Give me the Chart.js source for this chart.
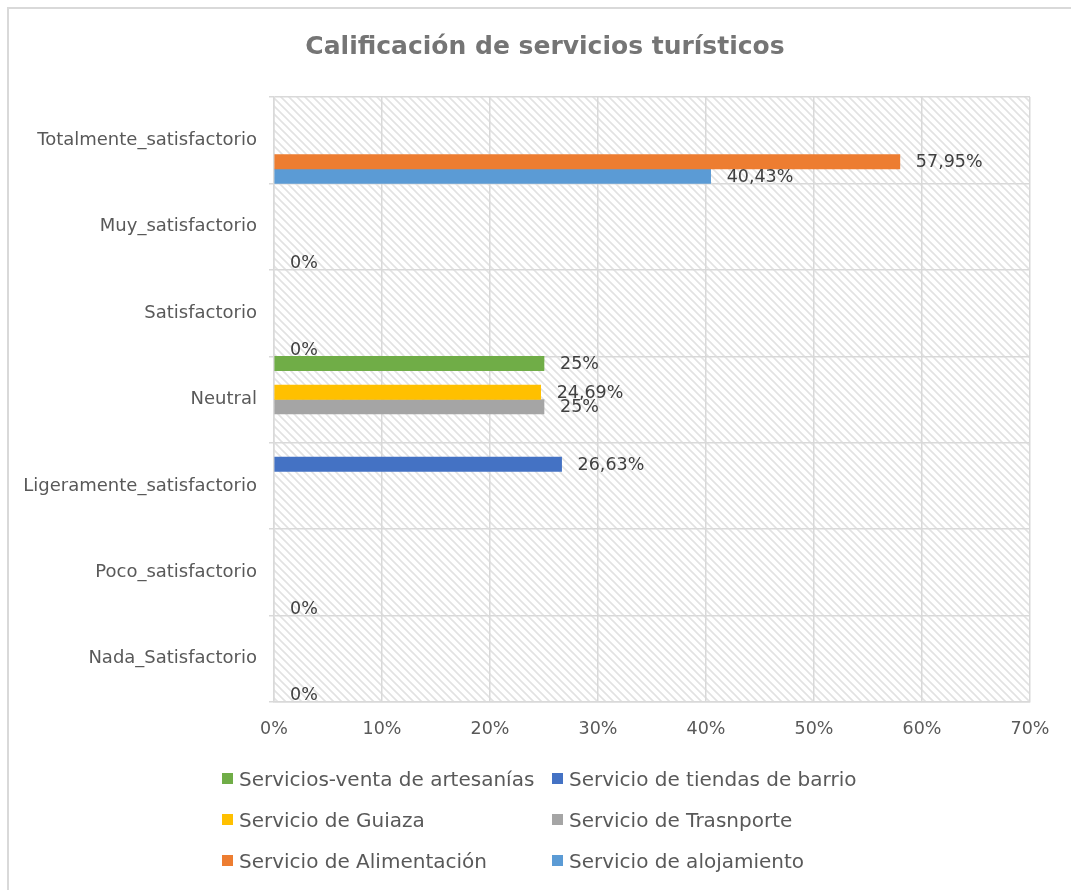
<!DOCTYPE html>
<html>
<head>
<meta charset="utf-8">
<script src="https://cdn.jsdelivr.net/npm/chart.js@4/dist/chart.umd.min.js"></script>
<style>
  html, body { margin: 0; padding: 0; background: #fff; }
  html { overflow: hidden; }
  body { width: 1071px; height: 890px; position: relative; overflow: hidden; font-family: "DejaVu Sans", sans-serif; }
  .frame { position: absolute; left: 7px; top: 7px; width: 1064px; height: 883px; border-top: 2px solid #d9d9d9; border-left: 2px solid #d9d9d9; box-sizing: border-box; }
  .wrap { position: absolute; left: 0; top: 0; width: 1071px; height: 890px; }
  .legend { position: absolute; left: 222px; top: 758px; display: grid; grid-template-columns: 330px auto; grid-auto-rows: 41px; color: #595959; font-size: 20px; }
  .legend div { display: flex; align-items: center; white-space: nowrap; }
  .legend span { display: inline-block; width: 11px; height: 11px; margin-right: 6px; }
</style>
</head>
<body>
<div class="frame"></div>
<div class="wrap"><canvas id="chart"></canvas></div>
<div class="legend" id="legend"></div>
<script>
// categories, top to bottom
const categories = [
    'Totalmente_satisfactorio',
    'Muy_satisfactorio',
    'Satisfactorio',
    'Neutral',
    'Ligeramente_satisfactorio',
    'Poco_satisfactorio',
    'Nada_Satisfactorio',
]

// series values (%), null = no bar / no label
const artesanias   = [null, null, null, 25, null, null, null]
const tiendas      = [null, null, null, null, 26.63, null, null]
const guiaza       = [null, null, null, 24.69, null, null, null]
const transporte   = [null, null, null, 25, null, null, null]
const alimentacion = [57.95, null, null, null, null, null, null]
const alojamiento  = [40.43, 0, 0, null, null, 0, 0]

const xTicks = [0, 10, 20, 30, 40, 50, 60, 70]

const series = [
    { label: 'Servicios-venta de artesanías', data: artesanias, color: '#70ad47' },
    { label: 'Servicio de tiendas de barrio', data: tiendas, color: '#4472c4' },
    { label: 'Servicio de Guiaza', data: guiaza, color: '#ffc000' },
    { label: 'Servicio de Trasnporte', data: transporte, color: '#a5a5a5' },
    { label: 'Servicio de Alimentación', data: alimentacion, color: '#ed7d31' },
    { label: 'Servicio de alojamiento', data: alojamiento, color: '#5b9bd5' },
]

const TITLE = 'Calificación de servicios turísticos'
const FONT = '"DejaVu Sans", sans-serif'

function fmt(v) {
    return String(v).replace('.', ',') + '%'
}

// diagonal hatch for the plot area
function makeHatch(ctx) {
    const c = document.createElement('canvas')
    c.width = 8
    c.height = 8
    const p = c.getContext('2d')
    p.strokeStyle = '#e2e2e2'
    p.lineWidth = 1.6
    p.beginPath()
    p.moveTo(-2, -2); p.lineTo(10, 10)
    p.moveTo(-10, -2); p.lineTo(2, 10)
    p.moveTo(6, -2); p.lineTo(18, 10)
    p.stroke()
    return ctx.createPattern(c, 'repeat')
}

const hatchPlugin = {
    id: 'hatch',
    beforeDraw(chart) {
        const { ctx, chartArea } = chart
        ctx.save()
        ctx.fillStyle = makeHatch(ctx)
        ctx.fillRect(chartArea.left, chartArea.top, chartArea.right - chartArea.left, chartArea.bottom - chartArea.top)
        ctx.restore()
    }
}

// title centred on the whole frame, not on the padded box
const titlePlugin = {
    id: 'frameTitle',
    afterDraw(chart) {
        const ctx = chart.ctx
        ctx.save()
        ctx.font = 'bold 25px ' + FONT
        ctx.fillStyle = '#757575'
        ctx.textAlign = 'center'
        ctx.textBaseline = 'middle'
        ctx.fillText(TITLE, 545, 47)
        ctx.restore()
    }
}

const valueLabels = {
    id: 'valueLabels',
    afterDatasetsDraw(chart) {
        const ctx = chart.ctx
        ctx.save()
        ctx.font = '17.5px ' + FONT
        ctx.fillStyle = '#404040'
        ctx.textAlign = 'left'
        ctx.textBaseline = 'middle'
        chart.data.datasets.forEach((ds, i) => {
            const meta = chart.getDatasetMeta(i)
            meta.data.forEach((bar, j) => {
                const v = ds.data[j]
                if (v === null || v === undefined) return
                ctx.fillText(fmt(v), bar.x + 16, bar.y + 1)
            })
        })
        ctx.restore()
    }
}

new Chart(document.getElementById('chart'), {
    type: 'bar',
    data: {
        labels: categories,
        datasets: series.map(s => ({
            label: s.label,
            data: s.data,
            backgroundColor: (c) => c.raw === 0 ? 'rgba(0,0,0,0)' : s.color,
            borderWidth: 0,
            categoryPercentage: 1,
            barPercentage: 1,
        })),
    },
    options: {
        indexAxis: 'y',
        responsive: true,
        maintainAspectRatio: false,
        animation: false,
        layout: {
            padding: { left: 0, right: 41, top: 97, bottom: 148 }
        },
        scales: {
            x: {
                min: 0,
                max: 70,
                afterBuildTicks: (scale) => {
                    scale.ticks = xTicks.map(v => ({ value: v }))
                },
                afterFit: (scale) => { scale.height = 40 },
                grid: { color: '#d9d9d9', lineWidth: 1.5, drawTicks: false },
                border: { color: '#d9d9d9', width: 1.5 },
                ticks: {
                    padding: 17,
                    color: '#595959',
                    font: { family: FONT, size: 17.5 },
                    callback: (v) => v + '%',
                },
            },
            y: {
                afterFit: (scale) => { scale.width = 274 },
                grid: { color: '#d9d9d9', lineWidth: 1.5, tickLength: 5, offset: true },
                border: { color: '#d9d9d9', width: 1.5 },
                ticks: {
                    padding: 12,
                    color: '#595959',
                    font: { family: FONT, size: 18 },
                },
            },
        },
        plugins: {
            legend: { display: false },
            tooltip: { enabled: false },
            title: { display: false },
        },
    },
    plugins: [hatchPlugin, valueLabels, titlePlugin],
})

// legend in two columns, same order as the series
const legend = document.getElementById('legend')
series.forEach(s => {
    const item = document.createElement('div')
    item.innerHTML = '<span style="background:' + s.color + '"></span>' + s.label
    legend.appendChild(item)
})
</script>
</body>
</html>
